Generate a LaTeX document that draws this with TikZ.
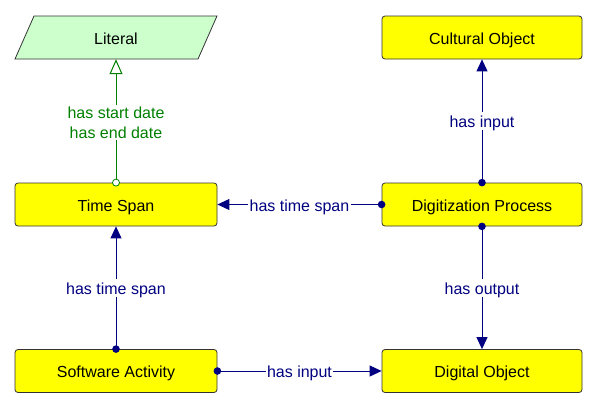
\documentclass[tikz,border=0pt]{standalone}
\usepackage{fontspec}
\setmainfont{Liberation Sans}
\usetikzlibrary{arrows.meta}
\definecolor{navy}{RGB}{0,0,128}
\definecolor{lgreen}{RGB}{204,255,204}
\definecolor{dgreen}{RGB}{0,128,0}
\definecolor{boxyellow}{RGB}{255,255,0}
\begin{document}
\begin{tikzpicture}[x=1pt,y=-1pt,
  cls/.style={draw=black!80, fill=boxyellow, rounded corners=3pt, minimum width=202pt, minimum height=43pt, inner sep=0pt, font=\fontsize{16}{19}\selectfont, line width=0.8pt, text height=13.5pt, text depth=0pt},
  rel/.style={draw=navy, line width=1pt, -{Triangle[length=12pt,width=11pt]}},
  lab/.style={fill=white, text=navy, inner sep=1.5pt, font=\fontsize{16}{19}\selectfont, text height=14pt, text depth=1pt},
  glab/.style={fill=white, text=dgreen, inner sep=1.5pt, align=center, font=\fontsize{16}{20}\selectfont},
  dotmark/.style={fill=navy}]
\useasboundingbox (0,0) rectangle (598,408);
% Literal parallelogram
\draw[fill=lgreen, draw=black!80, line width=0.8pt] (15,59) -- (34,16) -- (217,16) -- (198,59) -- cycle;
\node[minimum width=183pt, minimum height=43pt, inner sep=0pt, font=\fontsize{16}{19}\selectfont, text height=13.5pt, text depth=0pt] (lit) at (116,37.5) {Literal};
% classes
\node[cls] (ts) at (116,204.5) {Time Span};
\node[cls] (sa) at (116,371) {Software Activity};
\node[cls, minimum width=200pt] (co) at (482,37.5) {Cultural Object};
\node[cls, minimum width=200pt] (dp) at (482,204.5) {Digitization Process};
\node[cls, minimum width=200pt] (do) at (482,371) {Digital Object};
% connectors
\draw[draw=dgreen, line width=1pt, -{Triangle[open, length=15pt, width=13pt, fill=white]}] (ts.north) -- node[glab, midway, yshift=-1.5pt] {has start date\\has end date} (lit.south);
\draw[rel] (dp.west) -- node[lab, midway] {has time span} (ts.east);
\draw[rel] (dp.north) -- node[lab, midway] {has input} (co.south);
\draw[rel] (dp.south) -- node[lab, midway] {has output} (do.north);
\draw[rel] (sa.north) -- node[lab, midway] {has time span} (ts.south);
\draw[rel] (sa.east) -- node[lab, midway] {has input} (do.west);
% end dots
\draw[dgreen, fill=white, line width=0.8pt] (ts.north) circle (3.5pt);
\fill[dotmark] (dp.west) circle (3.8pt);
\fill[dotmark] (dp.north) circle (3.8pt);
\fill[dotmark] (dp.south) circle (3.8pt);
\fill[dotmark] (sa.north) circle (3.8pt);
\fill[dotmark] (sa.east) circle (3.8pt);
\end{tikzpicture}
\end{document}
